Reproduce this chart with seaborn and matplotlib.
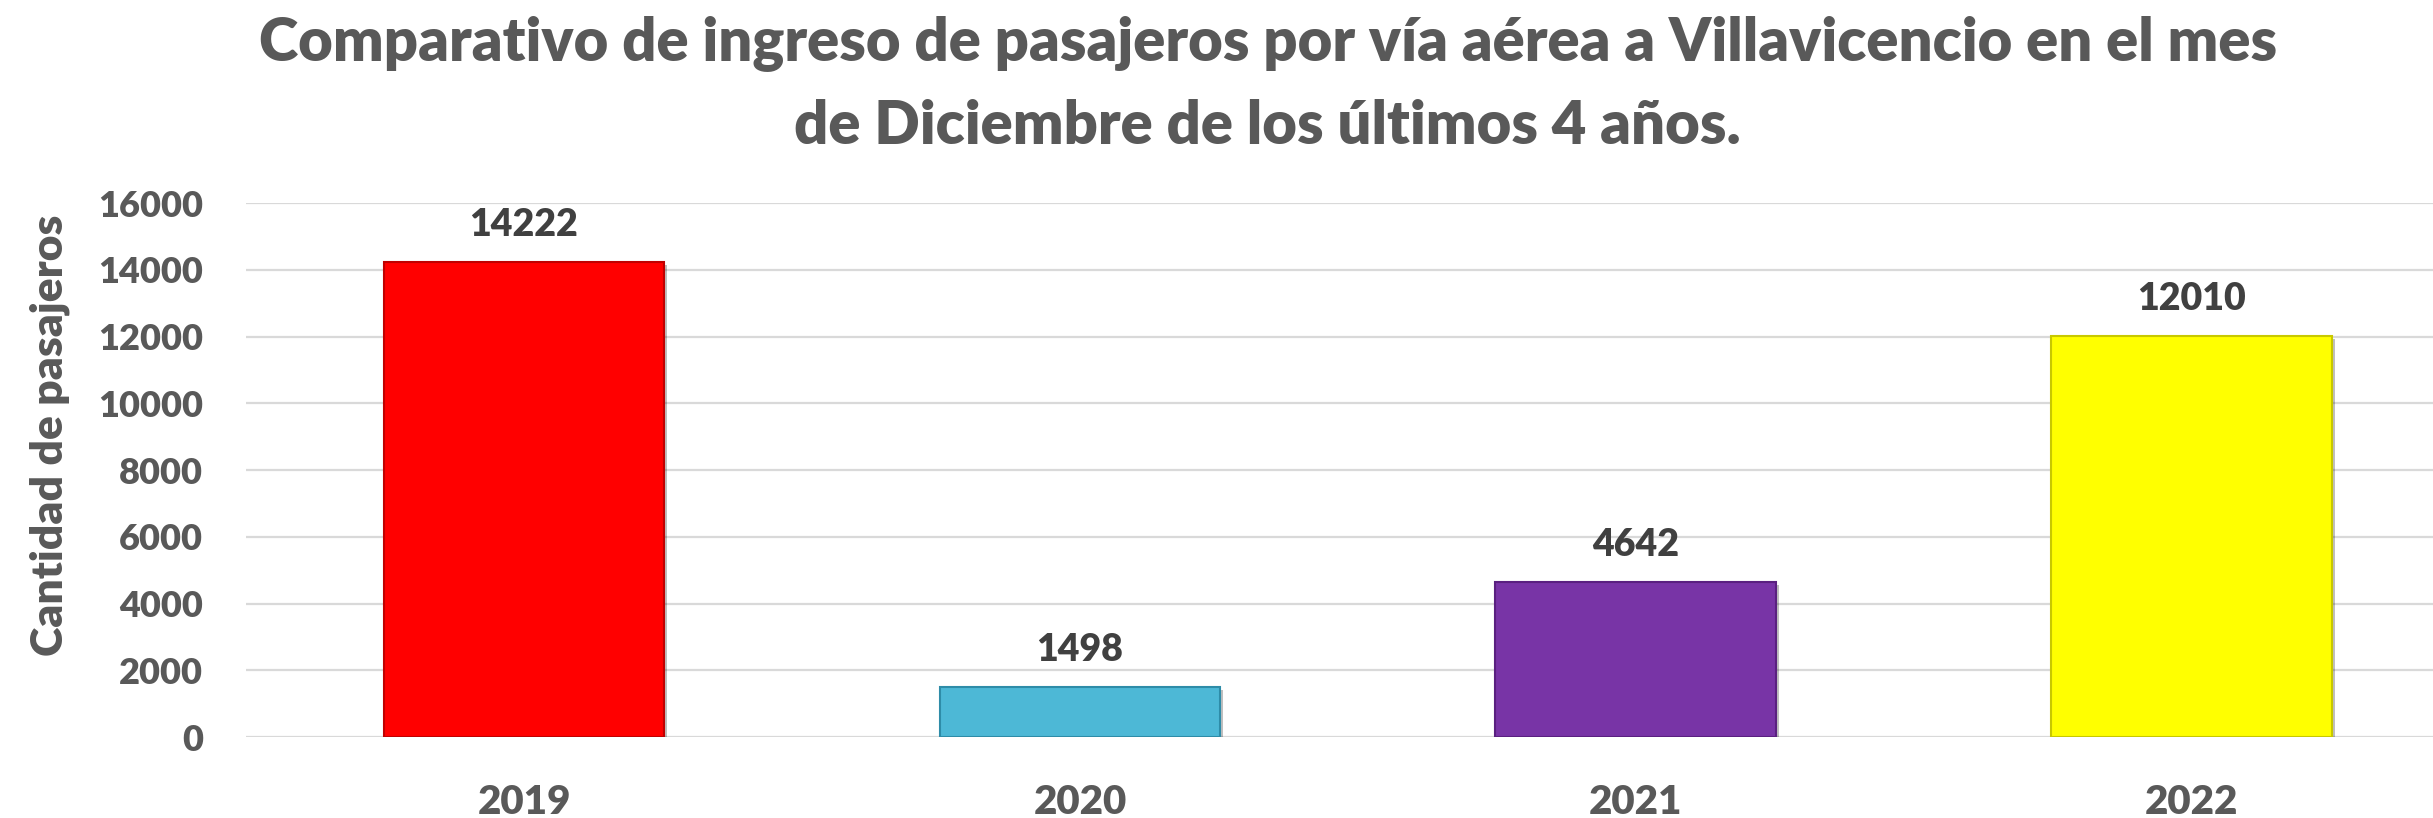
import numpy as np
import pandas as pd
import matplotlib.pyplot as plt
import matplotlib.patheffects as pe
import seaborn as sns

# Datos del grafico
anios = ['2019', '2020', '2021', '2022']
pasajeros = [14222, 1498, 4642, 12010]
colores = ['#FF0000', '#4DB8D6', '#7834A6', '#FFFF00']
bordes = ['#C00000', '#2E8CA8', '#5A2080', '#C8C800']
ticks_y = [0, 2000, 4000, 6000, 8000, 10000, 12000, 14000, 16000]

titulo = ('Comparativo de ingreso de pasajeros por vía aérea a Villavicencio en el mes\n'
          'de Diciembre de los últimos 4 años.')
etiqueta_y = 'Cantidad de pasajeros'

df = pd.DataFrame({'anio': anios, 'pasajeros': pasajeros})

sns.set_theme(style='white')
plt.rcParams['font.family'] = ['Lato', 'DejaVu Sans']
peso = 'heavy'

fig = plt.figure(figsize=(24.33, 8.18), dpi=100)
ax = fig.add_axes([0.1011, 0.099, 0.914, 0.6528])

sns.barplot(data=df, x='anio', y='pasajeros', hue='anio', palette=colores,
            legend=False, width=0.505, saturation=1, ax=ax, zorder=3)

# Bordes y sombra de las barras
for barra, borde in zip(ax.patches, bordes):
    barra.set_edgecolor(borde)
    barra.set_linewidth(1.5)
    barra.set_path_effects([pe.SimplePatchShadow(offset=(2, -2), shadow_rgbFace='#000000', alpha=0.25),
                            pe.Normal()])

# Etiquetas de datos
for i, v in enumerate(pasajeros):
    ax.annotate(str(v), (i, v), xytext=(0, 27), textcoords='offset points',
                ha='center', va='center', fontsize=27, fontweight=peso, color='#404040')

ax.set_xlim(-0.5, 3.5)
ax.set_ylim(0, 16000)
ax.set_yticks(ticks_y)
ax.set_yticklabels([str(t) for t in ticks_y], fontweight=peso)
for lab in ax.get_xticklabels():
    lab.set_fontweight(peso)
ax.yaxis.grid(True, color='#D9D9D9', linewidth=1.6, zorder=0)
ax.set_axisbelow(True)
for s in ax.spines.values():
    s.set_visible(False)
ax.tick_params(axis='y', length=0, pad=31, labelsize=26, labelcolor='#595959')
ax.tick_params(axis='x', length=0, pad=34, labelsize=29, labelcolor='#595959')
ax.set_xlabel('')
ax.set_ylabel(etiqueta_y, fontsize=32, fontweight=peso, color='#595959')
ax.yaxis.set_label_coords(-0.079, 0.565)

fig.text(0.521, 0.982, titulo, ha='center', va='top', fontsize=43, fontweight=peso,
         color='#595959', linespacing=1.62)

fig.savefig('out.png', dpi=100)
